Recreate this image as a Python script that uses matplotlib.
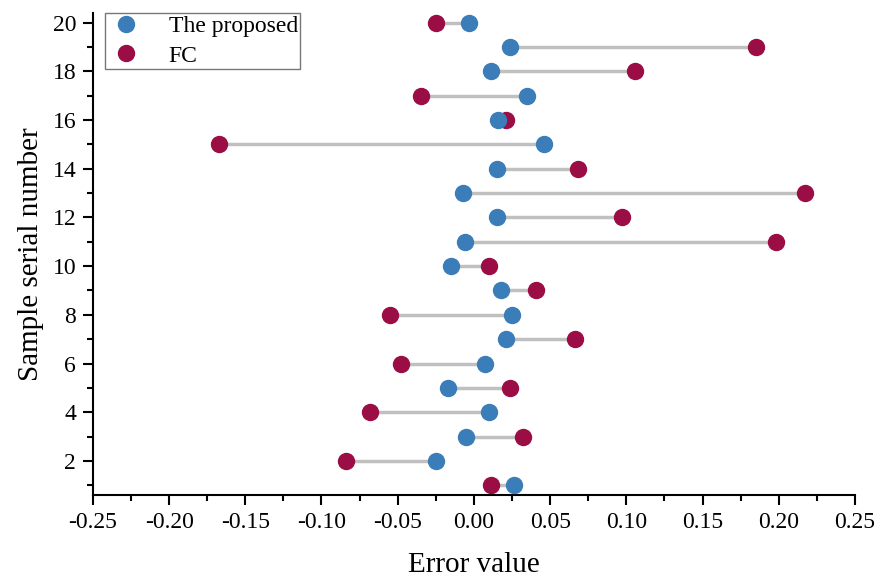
import matplotlib
matplotlib.use('agg')
import matplotlib.pyplot as plt
from matplotlib.ticker import MultipleLocator

samples = list(range(1, 21))
proposed = [0.026, -0.025, -0.005, 0.010, -0.017, 0.007, 0.021, 0.025, 0.018, -0.015,
            -0.006, 0.015, -0.007, 0.015, 0.046, 0.016, 0.035, 0.011, 0.024, -0.003]
fc = [0.011, -0.084, 0.032, -0.068, 0.024, -0.048, 0.066, -0.055, 0.041, 0.010,
      0.198, 0.097, 0.217, 0.068, -0.167, 0.021, -0.035, 0.106, 0.185, -0.025]
x_ticks = [-0.25, -0.2, -0.15, -0.1, -0.05, 0, 0.05, 0.1, 0.15, 0.2, 0.25]
x_labels = ['-0.25', '-0.20', '-0.15', '-0.10', '-0.05', '0.00', '0.05',
            '0.10', '0.15', '0.20', '0.25']

plt.rcParams['font.family'] = ['Liberation Serif', 'DejaVu Serif']

fig = plt.figure(figsize=(8.76, 5.78), dpi=100)
ax = fig.add_axes([0.106, 0.1436, 0.870, 0.834])

ax.hlines(samples, proposed, fc, color='#c0c0c0', linewidth=2.5, zorder=1)
ax.plot(fc, samples, 'o', color='#9b0d45', markersize=11.5, label='FC', zorder=2)
ax.plot(proposed, samples, 'o', color='#3a7db8', markersize=11.5, label='The proposed', zorder=3)

ax.set_xlim(-0.25, 0.25)
ax.set_ylim(0.6, 20.4)
ax.set_xticks(x_ticks)
ax.set_xticklabels(x_labels)
ax.xaxis.set_minor_locator(MultipleLocator(0.025))
ax.yaxis.set_major_locator(MultipleLocator(2))
ax.yaxis.set_minor_locator(MultipleLocator(1))

for s in ['top', 'right']:
    ax.spines[s].set_visible(False)
for s in ['left', 'bottom']:
    ax.spines[s].set_linewidth(1.5)
ax.tick_params(which='major', direction='out', length=7, width=1.5, labelsize=17, pad=5)
ax.tick_params(which='minor', direction='out', length=4, width=1.5)

ax.set_xlabel('Error value', fontsize=21, labelpad=14)
ax.set_ylabel('Sample serial number', fontsize=21, labelpad=6)

handles, labels = ax.get_legend_handles_labels()
leg = ax.legend(handles[::-1], labels[::-1], loc='upper left', bbox_to_anchor=(0.016, 1.0),
                borderaxespad=0, fontsize=17, frameon=True, fancybox=False, edgecolor='#555555',
                borderpad=0.1, handletextpad=1.0, labelspacing=0.35, handlelength=1.6)
leg.get_frame().set_linewidth(1.0)

fig.savefig('out.png', dpi=100)
